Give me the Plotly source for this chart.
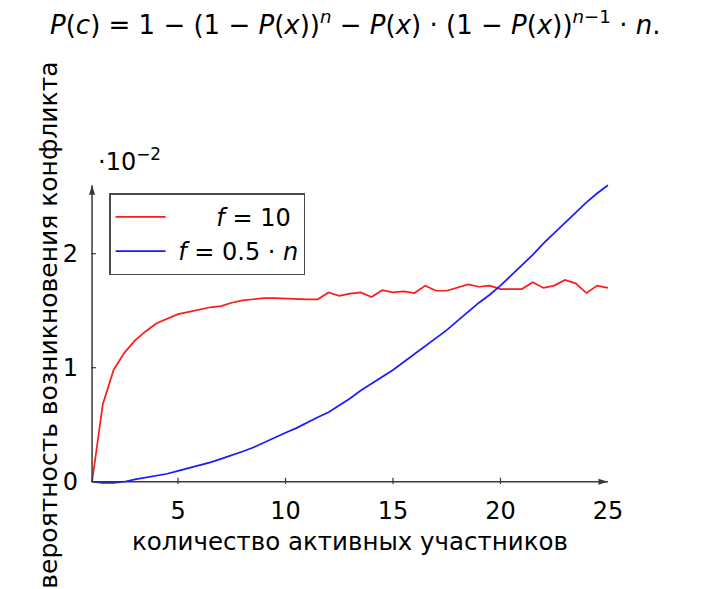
import plotly.graph_objects as go

# ---- data (values in units of 1e-2) ----
n_vals = [1, 1.5, 2, 2.5, 3, 3.5, 4, 4.5, 5, 5.5, 6, 6.5, 7, 7.5, 8, 8.5, 9, 9.5,
          10, 10.5, 11, 11.5, 12, 12.5, 13, 13.5, 14, 14.5, 15, 15.5, 16, 16.5,
          17, 17.5, 18, 18.5, 19, 19.5, 20, 20.5, 21, 21.5, 22, 22.5, 23, 23.5,
          24, 24.5, 25]
red_f10 = [0, 0.68, 0.98, 1.13, 1.24, 1.32, 1.39, 1.43, 1.47, 1.49, 1.51, 1.53,
           1.54, 1.57, 1.59, 1.60, 1.61, 1.61, 1.605, 1.60, 1.60, 1.60, 1.66,
           1.63, 1.65, 1.66, 1.62, 1.68, 1.66, 1.67, 1.655, 1.72, 1.675, 1.675,
           1.70, 1.73, 1.71, 1.72, 1.69, 1.69, 1.69, 1.75, 1.70, 1.72, 1.77,
           1.74, 1.655, 1.72, 1.70]
blue_half_n = [0, -0.01, -0.01, 0.0, 0.02, 0.035, 0.05, 0.07, 0.095, 0.12, 0.14,
               0.17, 0.20, 0.23, 0.265, 0.30, 0.345, 0.385, 0.43, 0.47, 0.52,
               0.565, 0.61, 0.67, 0.73, 0.80, 0.86, 0.92, 0.98, 1.05, 1.12, 1.19,
               1.26, 1.33, 1.41, 1.49, 1.57, 1.64, 1.72, 1.81, 1.90, 1.99, 2.09,
               2.18, 2.27, 2.36, 2.45, 2.53, 2.60]
series_names = ["&nbsp;&nbsp;&nbsp;&nbsp;&nbsp;&nbsp;<i>f</i> = 10",
                "&nbsp;<i>f</i> = 0.5 · <i>n</i>"]
x_ticks = [5, 10, 15, 20, 25]
y_ticks = [0, 1, 2]

FONT = "DejaVu Sans"
AX = "#3a3a3a"
X_MIN, X_MAX = 1, 25
Y_MIN, Y_MAX = 0, 2.6

W, H = 704, 589
L, R, T, B = 90.9, 94.9, 182.7, 104.7
pw, ph = W - L - R, H - T - B

def px_x(p):
    return (p - L) / pw

def px_y(p):
    return 1 - (p - T) / ph

fig = go.Figure()
fig.add_trace(go.Scatter(x=n_vals, y=red_f10, mode="lines", name=series_names[0],
                         line=dict(color="#ff1a1a", width=1.7)))
fig.add_trace(go.Scatter(x=n_vals, y=blue_half_n, mode="lines", name=series_names[1],
                         line=dict(color="#1a1aff", width=1.7)))

fig.add_shape(type="line", x0=X_MIN, x1=X_MAX, y0=Y_MIN, y1=Y_MIN, xref="x", yref="y",
              line=dict(color=AX, width=1.5))
fig.add_shape(type="line", x0=X_MIN, x1=X_MIN, y0=Y_MIN, y1=Y_MAX, xref="x", yref="y",
              line=dict(color=AX, width=1.5))
fig.add_trace(go.Scatter(x=[X_MAX, X_MIN], y=[Y_MIN, Y_MAX], mode="markers",
                         showlegend=False, hoverinfo="skip", cliponaxis=False,
                         marker=dict(symbol="arrow", angle=[90, 0], size=10,
                                     color=AX, line=dict(width=0))))

for t in x_ticks[:-1]:
    fig.add_shape(type="line", x0=t, x1=t, y0=Y_MIN - 0.035, y1=Y_MIN + 0.035,
                  xref="x", yref="y", line=dict(color=AX, width=1.2))
for t in y_ticks:
    fig.add_shape(type="line", x0=X_MIN - 0.18, x1=X_MIN + 0.18, y0=t, y1=t,
                  xref="x", yref="y", line=dict(color=AX, width=1.2))

fig.add_annotation(x=px_x(96), y=px_y(178), xref="paper", yref="paper", xanchor="left",
                   yanchor="bottom", showarrow=False,
                   text="·10<sup>−2</sup>", font=dict(family=FONT, size=24, color="black"))

fig.add_annotation(x=px_x(31), y=px_y(325), xref="paper", yref="paper", showarrow=False,
                   text="вероятность возникновения конфликта", textangle=-90,
                   font=dict(family=FONT, size=25, color="black"))

fig.add_annotation(x=px_x(355), y=px_y(22), xref="paper", yref="paper", showarrow=False,
                   xanchor="center", yanchor="middle",
                   text="<i>P</i>(<i>c</i>) = 1 − (1 − <i>P</i>(<i>x</i>))<sup><i>n</i></sup>"
                        " − <i>P</i>(<i>x</i>) · (1 − <i>P</i>(<i>x</i>))<sup><i>n</i>−1</sup> · <i>n</i>.",
                   font=dict(family=FONT, size=26, color="black"))

fig.update_layout(
    width=W, height=H,
    margin=dict(l=L, r=R, t=T, b=B, autoexpand=False),
    paper_bgcolor="white", plot_bgcolor="white",
    font=dict(family=FONT, size=24, color="black"),
    showlegend=True,
    legend=dict(x=px_x(109), y=px_y(193), xanchor="left", yanchor="top",
                bordercolor="#4a4a4a", borderwidth=1.5, bgcolor="white",
                font=dict(family=FONT, size=24), tracegroupgap=0,
                itemwidth=50),
    xaxis=dict(range=[0.95, 25.05], tickvals=x_ticks, ticktext=[str(t) for t in x_ticks],
               showgrid=False, zeroline=False, showline=False, ticks="",
               ticklabelstandoff=10,
               title=dict(text="количество активных участников", standoff=8,
                          font=dict(family=FONT, size=24.5))),
    yaxis=dict(range=[-0.02, 2.62], tickvals=y_ticks, ticktext=[str(t) for t in y_ticks],
               showgrid=False, zeroline=False, showline=False, ticks="",
               ticklabelstandoff=12),
)

fig.write_html("out.html")
